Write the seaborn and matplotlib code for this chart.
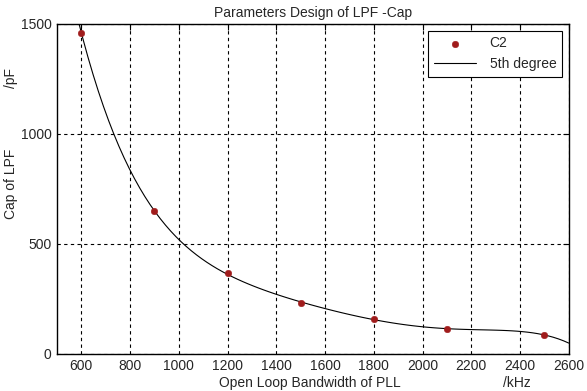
import numpy as np
import pandas as pd
import matplotlib
matplotlib.use('Agg')
import matplotlib.pyplot as plt
import seaborn as sns

# точки C2
bandwidth = [600, 900, 1200, 1500, 1800, 2100, 2500]   # kHz
cap_c2 = [1460, 648, 366, 230, 160, 113, 86]            # pF
x_ticks = [600, 800, 1000, 1200, 1400, 1600, 1800, 2000, 2200, 2400, 2600]
y_ticks = [0, 500, 1000, 1500]

df = pd.DataFrame({'bw': bandwidth, 'cap': cap_c2})

sns.set_style('white')
plt.rcParams['font.family'] = ['Liberation Sans', 'DejaVu Sans']

fig = plt.figure(figsize=(5.87, 3.91), dpi=100)
ax = fig.add_axes([0.097, 0.095, 0.872, 0.844])
ax.set_xlim(500, 2600)
ax.set_ylim(0, 1500)

# полином 5-й степени средствами seaborn
sns.regplot(data=df, x='bw', y='cap', order=5, ci=None, scatter=False, truncate=False,
            line_kws={'color': 'black', 'lw': 0.8}, ax=ax, label='5th degree')
sns.scatterplot(data=df, x='bw', y='cap', color='#a01c1c', s=22, edgecolor='#a01c1c',
                ax=ax, label='C2', zorder=5)
ax.set_xlim(500, 2600)
ax.set_ylim(0, 1500)

ax.set_xticks(x_ticks)
ax.set_yticks(y_ticks)
ax.tick_params(labelsize=10, direction='in', length=4, pad=4, top=True, right=True, color='black')
ax.grid(True, linestyle=(0, (3, 3)), color='black', lw=0.8)
for s in ax.spines.values():
    s.set_color('black')
    s.set_linewidth(1.0)

ax.set_xlabel('')
ax.set_ylabel('')
ax.set_title('Parameters Design of LPF -Cap', fontsize=10, pad=5)
fig.text(0.528, 0.02, 'Open Loop Bandwidth of PLL', ha='center', va='center', fontsize=10)
fig.text(0.88, 0.02, '/kHz', ha='center', va='center', fontsize=10)
fig.text(0.018, 0.53, 'Cap of LPF', rotation=90, ha='center', va='center', fontsize=10)
fig.text(0.018, 0.8, '/pF', rotation=90, ha='center', va='center', fontsize=10)

h, l = ax.get_legend_handles_labels()
order = [l.index('C2'), l.index('5th degree')]
leg = ax.legend([h[i] for i in order], [l[i] for i in order], loc='upper right',
                fontsize=10, frameon=True, fancybox=False, edgecolor='black',
                framealpha=1, borderaxespad=0.5, handlelength=3.0, handletextpad=1.0)
leg.get_frame().set_linewidth(0.8)

fig.savefig('out.png', dpi=100)
